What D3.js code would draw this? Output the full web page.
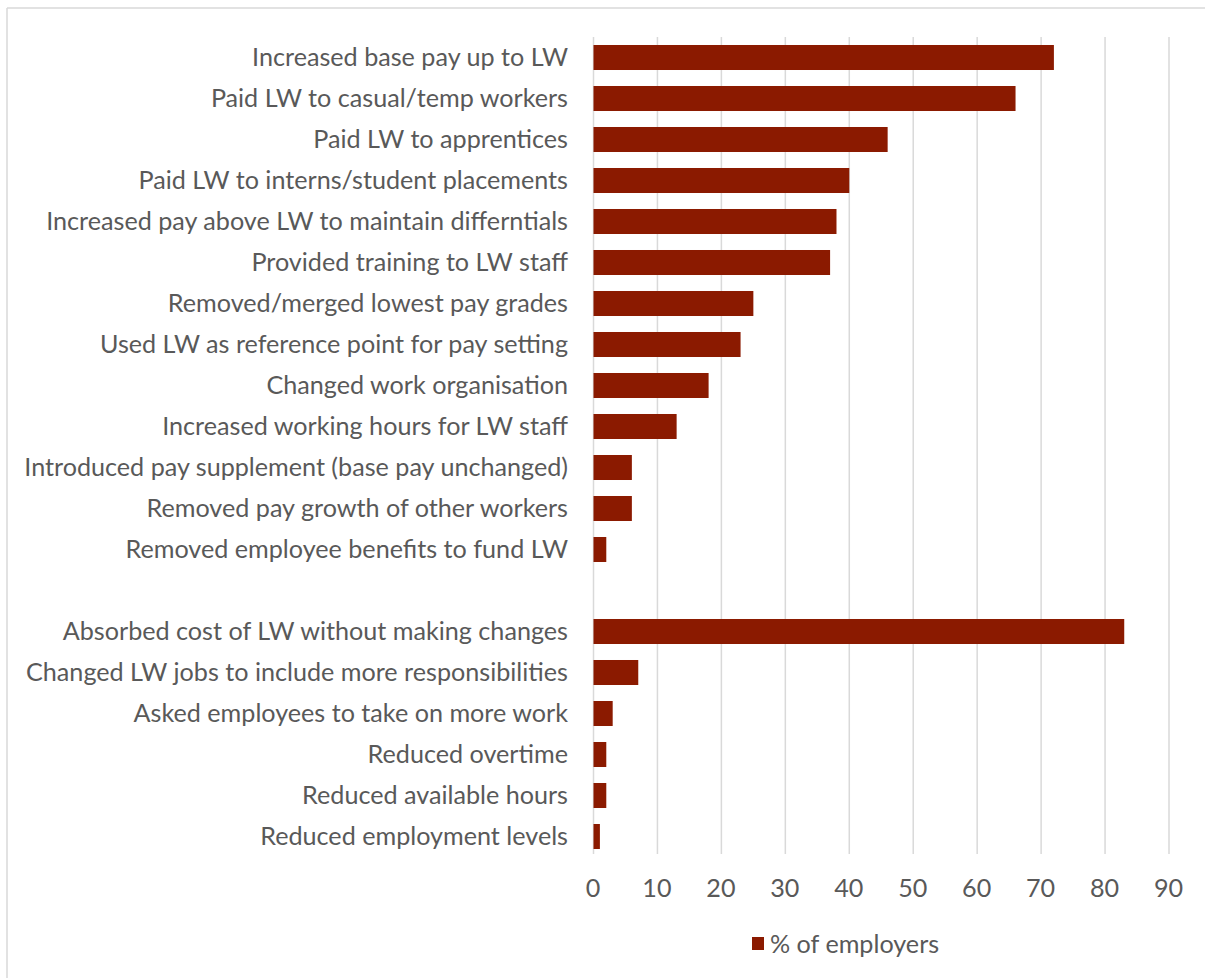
<!DOCTYPE html>
<html>
<head>
<meta charset="utf-8">
<script src="https://cdn.jsdelivr.net/npm/d3@7"></script>
<style>
  html, body { margin: 0; padding: 0; background: #fff; }
  svg { display: block; }
  text { font-family: Lato, "Open Sans", sans-serif; fill: #595959; }
</style>
</head>
<body>
<svg id="chart" width="1205" height="978"></svg>
<script>
// Actions taken by employers after adopting the Living Wage (LW)
const categories = [
  "Increased base pay up to LW",
  "Paid LW to casual/temp workers",
  "Paid LW to apprentices",
  "Paid LW to interns/student placements",
  "Increased pay above LW to maintain differntials",
  "Provided training to LW staff",
  "Removed/merged lowest pay grades ",
  "Used LW as reference point for pay setting",
  "Changed work organisation",
  "Increased working hours for LW staff",
  "Introduced pay supplement (base pay unchanged)",
  "Removed pay growth of other workers",
  "Removed employee benefits to fund LW",
  "",
  "Absorbed cost of LW without making changes",
  "Changed LW jobs to include more responsibilities",
  "Asked employees to take on more work",
  "Reduced overtime",
  "Reduced available hours",
  "Reduced employment levels"
];
const values = [72, 66, 46, 40, 38, 37, 25, 23, 18, 13, 6, 6, 2, null, 83, 7, 3, 2, 2, 1];
const xTicks = [0, 10, 20, 30, 40, 50, 60, 70, 80, 90];
const seriesName = "% of employers";

const rows = categories.map((c, i) => ({ key: "r" + i, label: c, value: values[i] }));

const svg = d3.select("#chart");
const W = 1205, H = 978;
const plot = { left: 593.5, right: 1169, top: 37, bottom: 857 };
const barColor = "#8B1A00";
const gridColor = "#d9d9d9";

// size the label font so the longest category spans the left margin
const probe = svg.append("text").attr("font-size", 20)
  .text("Introduced pay supplement (base pay unchanged)");
const fs = 20 * 544 / probe.node().getComputedTextLength();
probe.remove();

// chart frame (top and left edges)
svg.append("line").attr("x1", 7).attr("x2", W).attr("y1", 8).attr("y2", 8)
  .attr("stroke", gridColor).attr("stroke-width", 1.5);
svg.append("line").attr("x1", 7).attr("x2", 7).attr("y1", 8).attr("y2", H)
  .attr("stroke", gridColor).attr("stroke-width", 1.5);

const x = d3.scaleLinear().domain([0, 90]).range([plot.left, plot.right]);
const y = d3.scaleBand().domain(rows.map(d => d.key))
  .range([plot.top, plot.bottom]).paddingInner(0.39).paddingOuter(0.195);

// vertical gridlines
svg.append("g").selectAll("line").data(xTicks).join("line")
  .attr("x1", d => x(d)).attr("x2", d => x(d))
  .attr("y1", plot.top).attr("y2", 854)
  .attr("stroke", gridColor).attr("stroke-width", 1.5);

// bars
svg.append("g").selectAll("rect").data(rows.filter(d => d.value != null)).join("rect")
  .attr("x", x(0))
  .attr("y", d => y(d.key))
  .attr("width", d => x(d.value) - x(0))
  .attr("height", y.bandwidth())
  .attr("fill", barColor);

// category labels
svg.append("g").selectAll("text").data(rows).join("text")
  .attr("x", 568)
  .attr("y", d => y(d.key) + y.bandwidth() / 2 - 1.5)
  .attr("text-anchor", "end")
  .attr("dominant-baseline", "central")
  .attr("font-size", fs)
  .text(d => d.label);

// x axis tick labels
const xAxis = d3.axisBottom(x).tickValues(xTicks).tickSize(0).tickPadding(0);
const gx = svg.append("g").attr("transform", "translate(-1,887)").call(xAxis);
gx.select(".domain").remove();
gx.selectAll("text").attr("font-size", fs).attr("fill", "#595959")
  .attr("dy", null).attr("y", 0).attr("dominant-baseline", "central")
  .style("font-family", "Lato, 'Open Sans', sans-serif");

// legend
const lg = svg.append("g");
lg.append("rect").attr("x", 752).attr("y", 937).attr("width", 12).attr("height", 13).attr("fill", barColor);
lg.append("text").attr("x", 770).attr("y", 943).attr("dominant-baseline", "central")
  .attr("font-size", fs).text(seriesName);
</script>
</body>
</html>
